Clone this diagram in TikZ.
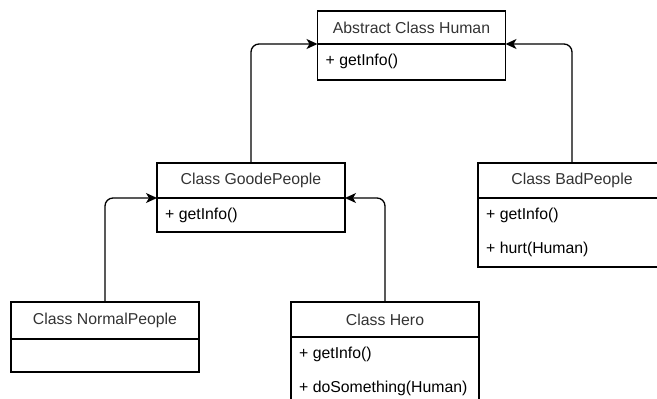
\documentclass[tikz,border=0pt]{standalone}
\usepackage{fontspec}
\setmainfont{Liberation Sans}
\usetikzlibrary{arrows.meta,positioning}
\tikzset{
    classhead/.style={
        draw,
        line width=1.3pt,
        minimum width=188pt,
        inner sep=0pt,
        outer sep=0pt,
        text=black!80,
        font=\fontsize{15.8pt}{19pt}\selectfont
    },
    classbody/.style={
        draw,
        line width=1.3pt,
        minimum width=188pt,
        inner sep=0pt,
        outer sep=0pt
    },
    member/.style={
        anchor=west,
        inner sep=0pt,
        font=\fontsize{15.8pt}{19pt}\selectfont
    },
    arrow/.style={
        -{Stealth[length=11pt,width=10pt,inset=3pt]},
        line width=1.3pt,
        rounded corners=8pt
    }
}
\begin{document}
\begin{tikzpicture}[x=1pt,y=-1pt]
\useasboundingbox (0,0) rectangle (657,399);

% classes
\node[classhead, minimum height=33pt] (human) at (411.5,27.5) {Abstract Class Human};
\node[classbody, minimum height=36pt, below=0pt of human] (humanbody) {};
\node[member] (humanget) at ([xshift=8pt,yshift=-17pt]humanbody.north west) {+ getInfo()};

\node[classhead, minimum height=35pt] (goode) at (251,180.5) {Class GoodePeople};
\node[classbody, minimum height=34pt, below=0pt of goode] (goodebody) {};
\node[member] (goodeget) at ([xshift=8pt,yshift=-17pt]goodebody.north west) {+ getInfo()};

\node[classhead, minimum height=35pt] (bad) at (572,180.5) {Class BadPeople};
\node[classbody, minimum height=69pt, below=0pt of bad] (badbody) {};
\node[member] (badget) at ([xshift=8pt,yshift=-17pt]badbody.north west) {+ getInfo()};
\node[member] (badhurt) at ([xshift=8pt,yshift=-51pt]badbody.north west) {+ hurt(Human)};

\node[classhead, minimum height=37pt] (normal) at (105,320.5) {Class NormalPeople};
\node[classbody, minimum height=33pt, below=0pt of normal] (normalbody) {};

\node[classhead, minimum height=35pt] (hero) at (385,319.5) {Class Hero};
\node[classbody, minimum height=72pt, below=0pt of hero] (herobody) {};
\node[member] (heroget) at ([xshift=8pt,yshift=-17pt]herobody.north west) {+ getInfo()};
\node[member] (herodo) at ([xshift=8pt,yshift=-51pt]herobody.north west) {+ doSomething(Human)};

% inheritance
\draw[arrow] (goode.north) |- (human.south west);
\draw[arrow] (bad.north) |- (human.south east);
\draw[arrow] (normal.north) |- (goode.south west);
\draw[arrow] (hero.north) |- (goode.south east);

\end{tikzpicture}
\end{document}
